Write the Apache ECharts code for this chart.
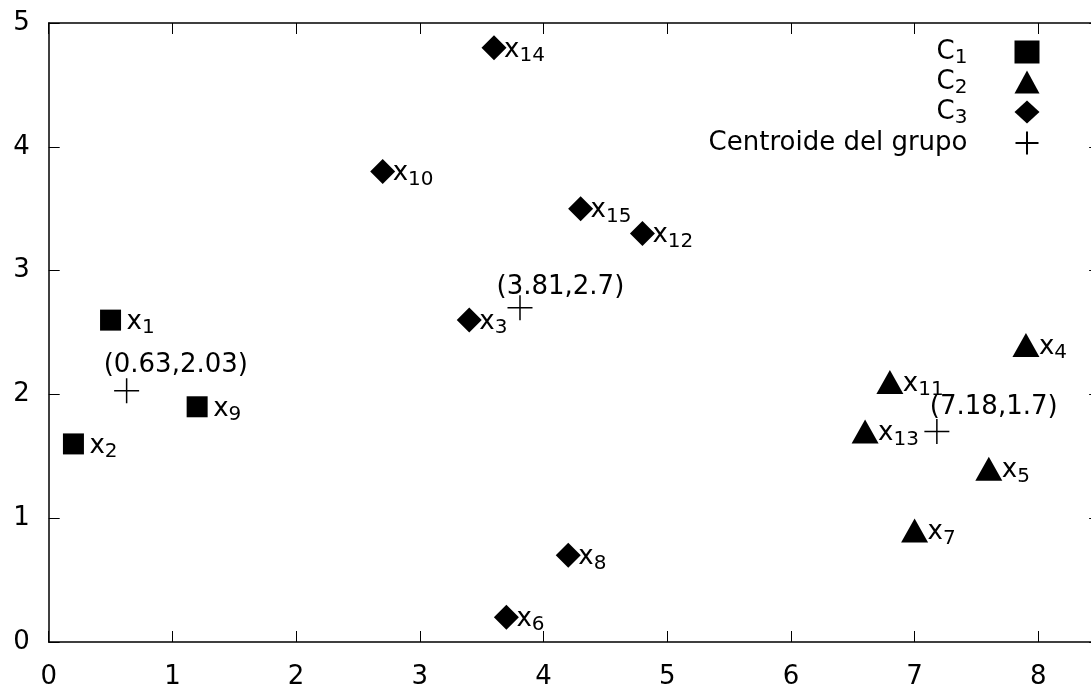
<!DOCTYPE html>
<html>
<head>
<meta charset="utf-8">
<script src="https://cdn.jsdelivr.net/npm/echarts@6/dist/echarts.min.js"></script>
<style>
html,body{margin:0;padding:0;background:#fff;}
#chart{width:1091px;height:686px;}
</style>
</head>
<body>
<div id="chart"></div>
<script>
// ---- data ----
const seriesNames = ['C1', 'C2', 'C3', 'Centroide del grupo'];
const c1Index = [1, 2, 9];
const c1X = [0.5, 0.2, 1.2];
const c1Y = [2.6, 1.6, 1.9];
const c2Index = [4, 5, 7, 11, 13];
const c2X = [7.9, 7.6, 7.0, 6.8, 6.6];
const c2Y = [2.4, 1.4, 0.9, 2.1, 1.7];
const c3Index = [3, 6, 8, 10, 12, 14, 15];
const c3X = [3.4, 3.7, 4.2, 2.7, 4.8, 3.6, 4.3];
const c3Y = [2.6, 0.2, 0.7, 3.8, 3.3, 4.8, 3.5];
const centroidX = [0.63, 3.81, 7.18];
const centroidY = [2.03, 2.7, 1.7];
const xTicks = [0, 1, 2, 3, 4, 5, 6, 7, 8];
const yTicks = [0, 1, 2, 3, 4, 5];

// ---- styles ----
const FONT = 'DejaVu Sans';
const centroidLabelOffsets = [[-23, -25.5], [-23.5, -20.5], [-7, -24]];

function pts(xs, ys, idx) {
  return xs.map((x, i) => [x, ys[i], idx[i]]);
}
const pointRich = {
  m: { fontSize: 26, fontFamily: FONT, color: '#000' },
  s: { fontSize: 20, fontFamily: FONT, color: '#000', padding: [12, 0, 0, 0] }
};
function pointLabel(dx) {
  return {
    show: true, position: 'inside', align: 'left', offset: [dx, 2],
    formatter: p => '{m|x}{s|' + p.data[2] + '}',
    rich: pointRich
  };
}

const chart = echarts.init(document.getElementById('chart'), null, { renderer: 'canvas' });
const axisLineStyle = { color: '#000', width: 1.5 };
const tickStyle = { color: '#000', width: 1 };
const solid = { color: '#000', opacity: 1 };

function axis(kind, pos, showLabel, ticks) {
  const a = {
    type: 'value', position: pos,
    min: 0, max: kind === 'x' ? 8.5 : 5, interval: 1,
    axisLine: { show: true, onZero: false, lineStyle: axisLineStyle },
    axisTick: { show: true, inside: true, length: 11, lineStyle: tickStyle, customValues: ticks },
    splitLine: { show: false },
    axisLabel: { show: false }
  };
  if (showLabel) {
    a.axisLabel = {
      show: true, fontSize: 26, fontFamily: FONT, color: '#000',
      margin: kind === 'x' ? 22 : 19, customValues: ticks,
      formatter: v => String(v)
    };
  }
  return a;
}

const option = {
  animation: false,
  backgroundColor: '#fff',
  textStyle: { fontFamily: FONT },
  grid: {
    left: 48.7, top: 23, width: 8.5 * 123.7, height: 619,
    containLabel: false, outerBoundsMode: 'none'
  },
  xAxis: [axis('x', 'bottom', true, xTicks), axis('x', 'top', false, xTicks)],
  yAxis: [axis('y', 'left', true, yTicks), axis('y', 'right', false, yTicks)],
  legend: {
    orient: 'vertical', right: 45, top: 34, align: 'right',
    itemWidth: 25, itemHeight: 23, itemGap: 1,
    data: seriesNames,
    formatter: name => {
      const m = name.match(/^C(\d)$/);
      return m ? '{c|C}{s|' + m[1] + '}' : '{c|' + name + '}';
    },
    textStyle: {
      color: '#000', fontFamily: FONT, fontSize: 26, padding: [0, 42, 0, 0],
      rich: {
        c: { fontSize: 26, fontFamily: FONT, color: '#000' },
        s: { fontSize: 20, fontFamily: FONT, color: '#000', padding: [12, 0, 0, 0] }
      }
    }
  },
  series: [
    {
      name: seriesNames[0], type: 'scatter', symbol: 'rect', symbolSize: 21,
      itemStyle: solid, data: pts(c1X, c1Y, c1Index), label: pointLabel(16)
    },
    {
      name: seriesNames[1], type: 'scatter', symbol: 'triangle', symbolSize: [27, 24],
      itemStyle: solid, data: pts(c2X, c2Y, c2Index), label: pointLabel(13)
    },
    {
      name: seriesNames[2], type: 'scatter', symbol: 'diamond', symbolSize: 25,
      itemStyle: solid, data: pts(c3X, c3Y, c3Index), label: pointLabel(10)
    },
    {
      name: seriesNames[3], type: 'scatter',
      symbol: 'path://M12,0L12,24M0,12L24,12', symbolSize: 25,
      itemStyle: { color: 'none', borderColor: '#000', borderWidth: 1.5, opacity: 1 },
      data: centroidX.map((x, i) => ({
        value: [x, centroidY[i]],
        label: { offset: centroidLabelOffsets[i] }
      })),
      label: {
        show: true, position: 'inside', align: 'left',
        fontSize: 26, fontFamily: FONT, color: '#000',
        formatter: p => '(' + p.value[0] + ',' + p.value[1] + ')'
      }
    }
  ]
};
chart.setOption(option);
</script>
</body>
</html>
